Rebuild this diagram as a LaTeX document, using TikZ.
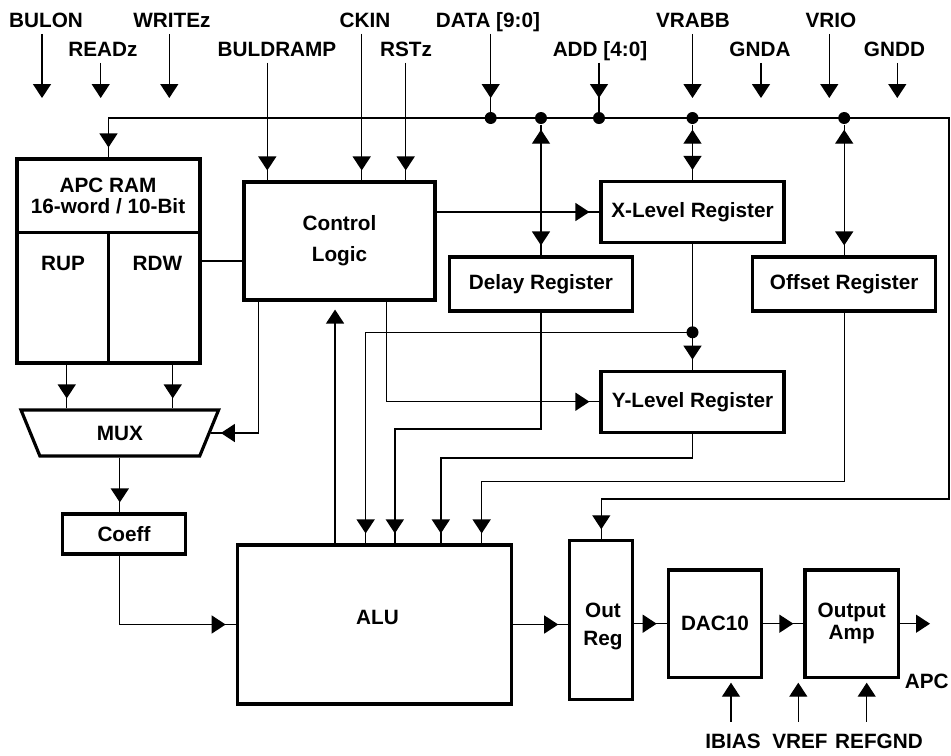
\documentclass[tikz,border=0pt]{standalone}
\usepackage{fontspec}
\setmainfont{Liberation Sans}
\usetikzlibrary{arrows.meta,calc,shapes.geometric}
\tikzset{
  blk/.style={draw, line width=1.8pt, inner sep=0pt, align=center},
  pinlbl/.style={inner xsep=0pt, inner ysep=3.2pt, text height=8.5pt, text depth=0pt},
  bpinlbl/.style={pinlbl, inner ysep=6.2pt},
  jdot/.style={circle, fill, inner sep=0pt, minimum size=0.24cm},
  arrin/.style={postaction={draw,->,shorten >=#1}},
  arrin/.default=0.2cm,
  bidir/.style={postaction={draw,<->,shorten <=#1,shorten >=0.2cm}},
  bidir/.default=0.1cm,
  arrup/.style={->,shorten >=0.16cm}
}
\begin{document}
\begin{tikzpicture}[x=0.02cm,y=-0.02cm,line width=0.75pt,
  >={Triangle[length=0.28cm,width=0.36cm]},
  font=\fontsize{11.8}{12.3}\selectfont\bfseries]
\useasboundingbox (0,0) rectangle (951,755);

\node[blk, minimum width=3.66cm, minimum height=4.08cm] (ram) at (108.5,261) {};
\node[align=center] (ramt) at (108,196) {APC RAM\\16-word / 10-Bit};
\node (rup) at (63,263) {RUP};
\node (rdw) at (157.5,263) {RDW};
\draw[line width=1.8pt] ($(ram.north west)+(0,75)$) -- ($(ram.north east)+(0,75)$);
\draw[line width=1.8pt] ($(ram.north)+(0,75)$) -- (ram.south);
\node[blk, trapezium, trapezium left angle=110.6, trapezium right angle=110.6,
  trapezium stretches=true, minimum width=3.96cm, minimum height=0.92cm] (mux) at (119.8,433) {MUX};
\node[blk, minimum width=3.82cm, minimum height=2.36cm] (ctl) at (339.5,241) {Control\\[5.3pt]Logic};
\node[blk, minimum width=3.66cm, minimum height=1.22cm] (xlev) at (692.5,212) {X-Level Register};
\node[blk, minimum width=3.66cm, minimum height=1.08cm] (dly) at (541,284) {Delay Register};
\node[blk, minimum width=3.66cm, minimum height=1.08cm] (off) at (844.2,284) {Offset Register};
\node[blk, minimum width=3.66cm, minimum height=1.22cm] (ylev) at (692.5,401.7) {Y-Level Register};
\node[blk, minimum width=2.46cm, minimum height=0.8cm] (coeff) at (124,534) {Coeff};
\node[blk, minimum width=5.48cm, minimum height=3.18cm] (alu) at (374.2,624.5) {};
\node (alut) at (377.5,617.3) {ALU};
\node[blk, minimum width=1.26cm, minimum height=3.18cm] (oreg) at (601.3,620.3) {};
\node[align=center] (oregt) at (603,626) {Out\\[3.6pt]Reg};
\node[blk, minimum width=1.87cm, minimum height=2.15cm] (dac) at (715,623.7) {DAC10};
\node[blk, minimum width=1.87cm, minimum height=2.15cm] (amp) at (851.7,623.7) {Output\\Amp};
\node (apc) at (926.7,681.7) {APC};

\foreach \nm/\lx/\ly/\ax/\txt in {bulon/46/20/42/BULON, readz/103/49/100.7/READz,
  writez/172/20/169.3/WRITEz, vrabb/693/20/692.5/VRABB, gnda/760/49/761/GNDA,
  vrio/831/20/829.3/VRIO, gndd/894.5/49/897.3/GNDD}{
  \node[pinlbl] (\nm) at (\lx,\ly) {\txt};
  \coordinate (t\nm) at (\ax,98);
  \draw[->] (\nm.south -| t\nm) -- (t\nm);
}
\foreach \nm/\lx/\ly/\ax/\txt in {bldr/277/49/267.3/BULDRAMP, ckin/365/20/361.7/CKIN,
  rstz/406/49/405.7/RSTz}{
  \node[pinlbl] (\nm) at (\lx,\ly) {\txt};
  \coordinate (t\nm) at (\ax,0);
  \draw[arrin] (\nm.south -| t\nm) -- (t\nm |- ctl.north);
}
\foreach \nm/\lx/\ax/\txt in {ibias/733/731/IBIAS, vref/800/798.3/VREF,
  refgnd/879/866.7/REFGND}{
  \node[bpinlbl] (\nm) at (\lx,740.7) {\txt};
  \coordinate (t\nm) at (\ax,682.7);
  \draw[->] (\nm.north -| t\nm) -- (t\nm);
}

\foreach \nm/\x in {ddata/490.7, ddly/541, daddr/599, dxlev/692.5, doff/844.2}
  \node[jdot] (\nm) at (\x,118) {};
\node[pinlbl] (data) at (488,20) {DATA [9:0]};
\node[pinlbl] (addr) at (600,49) {ADD [4:0]};
\draw[arrin=0.4cm] (data.south -| ddata) -- (ddata.center);
\draw[arrin=0.4cm] (addr.south -| daddr) -- (daddr.center);

\coordinate (busL) at (108.5,118);
\coordinate (busR) at (949,118);
\draw[bidir=0.2cm] (ram.north) -- (busL) -- (busR) -- ++(0,381) -| (oreg.north);
\draw[bidir] (ddly) -- (ddly |- dly.north);
\draw[bidir] (dxlev) -- (dxlev |- xlev.north);
\draw[bidir] (doff) -- (doff |- off.north);

\node[jdot] (dxy) at (692.5,332.3) {};
\draw[arrin] (xlev.south) -- (ylev.north);
\draw (ram.east) -- (ram.east -| ctl.west);
\draw[arrin] (ctl.east |- xlev.west) -- (xlev.west);
\draw[arrin] ($(ctl.south west)+(16,0)$) |- (mux.east);
\draw[arrin] ($(ctl.south west)+(144.3,0)$) |- (ylev.west);
\foreach \i/\dx in {0/99.4,1/130,2/159.2,3/205.2,4/246}
  \coordinate (in\i) at ($(alu.north west)+(\dx,0)$);
\draw[arrup] (in0) -- (in0 |- ctl.south);
\draw[arrin] (dxy.center) -| (in1);
\draw[arrin] (dly.south) -- ++(0,116.3) -| (in2);
\draw[arrin] (ylev.south) -- ++(0,24.3) -| (in3);
\draw[arrin] (off.south) -- ++(0,169) -| (in4);

\coordinate (rupo) at ($(ram.south west)+(51.3,0)$);
\coordinate (rdwo) at ($(ram.south west)+(157.3,0)$);
\draw[arrin] (rupo) -- (rupo |- mux.north);
\draw[arrin] (rdwo) -- (rdwo |- mux.north);
\draw[arrin] (mux.south) -- (mux.south |- coeff.north);
\draw[arrin] (mux.south |- coeff.south) |- (alu.west);
\draw[arrin] (alu.east) -- (alu.east -| oreg.west);
\draw[arrin] (dac.west -| oreg.east) -- (dac.west);
\draw[arrin] (dac.east) -- (amp.west);
\draw[->] (amp.east) -- ++(30,0);
\end{tikzpicture}
\end{document}
